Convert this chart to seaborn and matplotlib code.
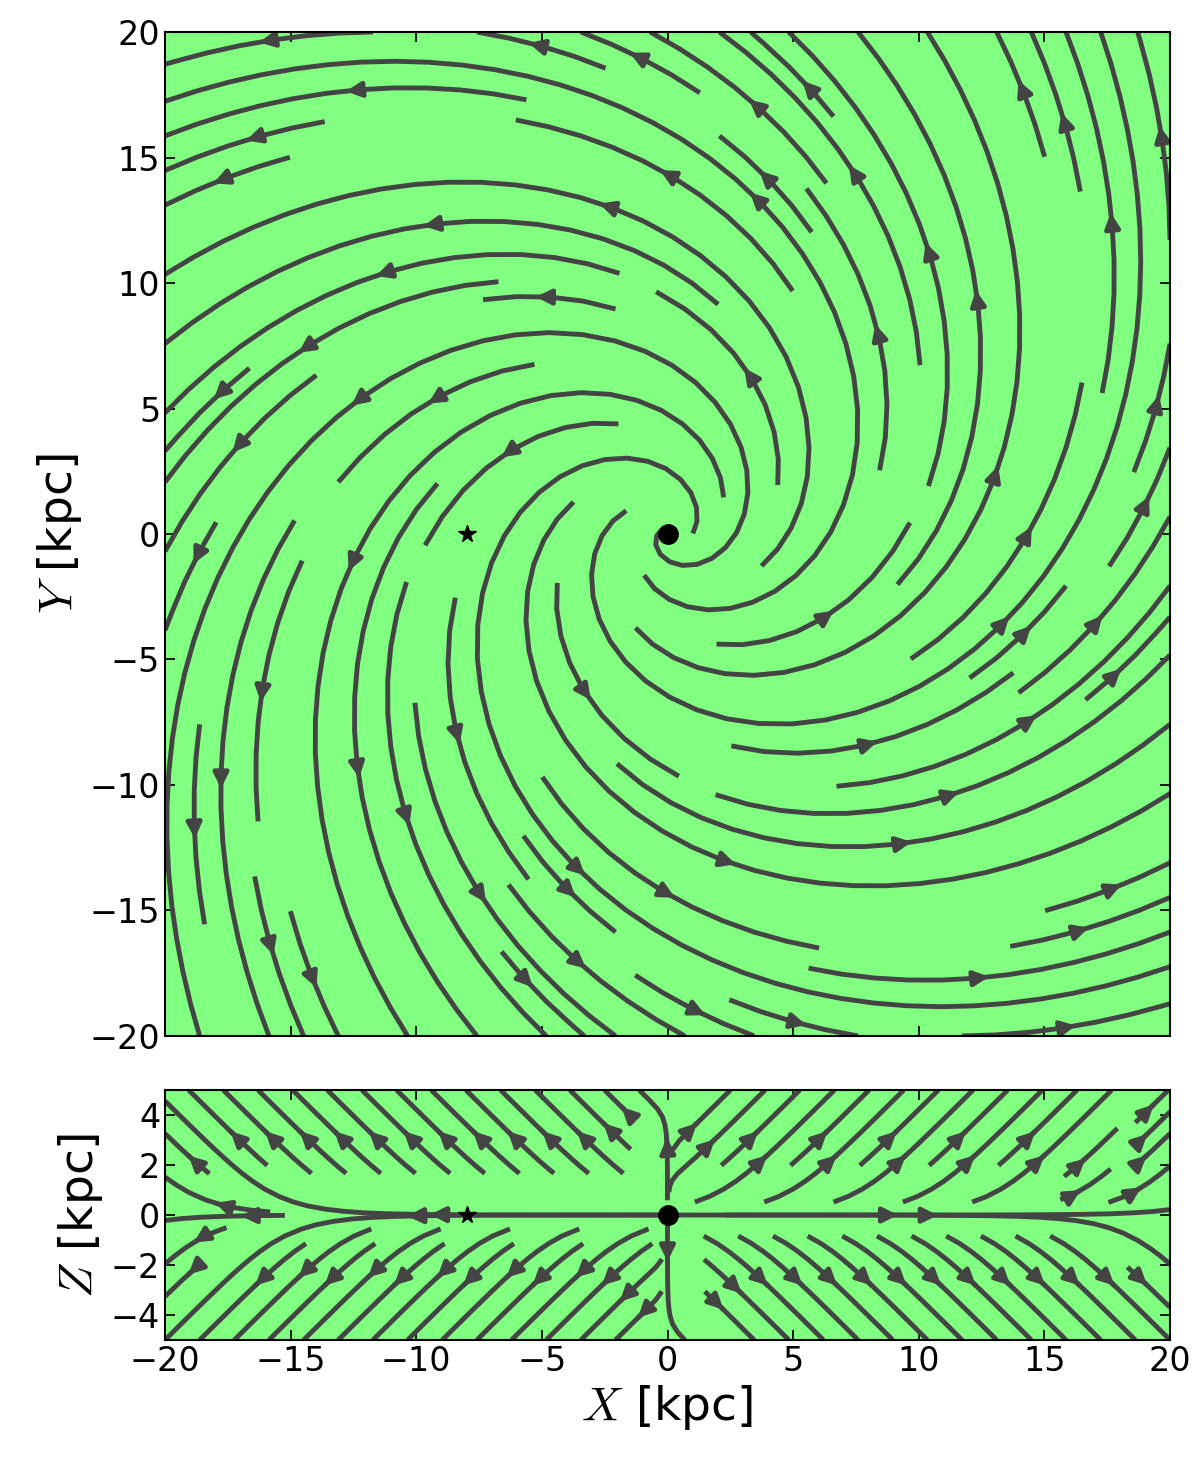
import numpy as np
import matplotlib
matplotlib.use("Agg")
import matplotlib.pyplot as plt
import seaborn as sns

# ── model parameters ─────────────────────────────────────────
PITCH_DEG   = 30.0            # spiral pitch of the disk field
HX, HZ      = 0.3, 1.5        # softening lengths of the X-shaped halo field
SUN_X       = -8.0            # star marker (Sun)
GC_X        = 0.0             # galactic centre marker
XLIM        = (-20, 20)
YLIM        = (-20, 20)
ZLIM        = (-5, 5)
XTICKS      = [-20, -15, -10, -5, 0, 5, 10, 15, 20]
YTICKS      = [-20, -15, -10, -5, 0, 5, 10, 15, 20]
ZTICKS      = [-4, -2, 0, 2, 4]

GREEN = "#80ff80"
LINE  = "#444444"

sns.set_theme(style="ticks")
plt.rcParams.update({
    "font.family": ["DejaVu Sans"],
    "mathtext.fontset": "cm",
    "text.color": "black",
    "axes.labelcolor": "black",
    "xtick.color": "black",
    "ytick.color": "black",
    "xtick.direction": "in",
    "ytick.direction": "in",
    "xtick.top": True,
    "ytick.right": True,
    "xtick.major.size": 7,
    "ytick.major.size": 7,
    "axes.linewidth": 1.5,
    "axes.edgecolor": "black",
})

fig = plt.figure(figsize=(12, 14.63), dpi=100)
ax1 = fig.add_axes([0.1375, 0.2919, 0.8375, 0.6862])
ax2 = fig.add_axes([0.1375, 0.0841, 0.8375, 0.1708])

# ── top panel: spiral disk field in the XY plane ─────────────
x = np.linspace(XLIM[0], XLIM[1], 300)
y = np.linspace(YLIM[0], YLIM[1], 300)
X, Y = np.meshgrid(x, y)
R = np.hypot(X, Y) + 1e-9
phi = np.arctan2(Y, X)
p = np.deg2rad(PITCH_DEG)
br, bphi = np.sin(p), np.cos(p)
U = br * np.cos(phi) - bphi * np.sin(phi)
V = br * np.sin(phi) + bphi * np.cos(phi)
U[R < 0.3] = 0
V[R < 0.3] = 0

ax1.set_facecolor(GREEN)
ax1.streamplot(X, Y, U, V, density=1.0, color=LINE, linewidth=3.5,
               arrowsize=2.2)
ax1.plot(SUN_X, 0, marker="*", color="black", markersize=13, zorder=5)
ax1.plot(GC_X, 0, marker="o", color="black", markersize=14, zorder=5)
ax1.set_xlim(XLIM)
ax1.set_ylim(YLIM)
ax1.set_xticks(XTICKS)
ax1.set_yticks(YTICKS)
ax1.set_xticklabels([])
ax1.set_ylabel(r"$Y$ [kpc]", fontsize=34)
ax1.tick_params(labelsize=24)

# ── bottom panel: X-shaped halo field in the XZ plane ────────
xx = np.linspace(XLIM[0], XLIM[1], 400)
zz = np.linspace(ZLIM[0], ZLIM[1], 100)
XX, ZZ = np.meshgrid(xx, zz)
UX = np.tanh(XX / HX)
UZ = np.tanh(ZZ / HZ)

ax2.set_facecolor(GREEN)
ax2.streamplot(XX, ZZ, UX, UZ, density=(1.0, 0.8), color=LINE,
               linewidth=3.5, arrowsize=2.2)
ax2.plot(SUN_X, 0, marker="*", color="black", markersize=13, zorder=5)
ax2.plot(GC_X, 0, marker="o", color="black", markersize=14, zorder=5)
ax2.set_xlim(XLIM)
ax2.set_ylim(ZLIM)
ax2.set_xticks(XTICKS)
ax2.set_yticks(ZTICKS)
ax2.set_xlabel(r"$X$ [kpc]", fontsize=34)
ax2.set_ylabel(r"$Z$ [kpc]", fontsize=34)
ax2.tick_params(labelsize=24)

for a in (ax1, ax2):
    for s in a.spines.values():
        s.set_visible(True)
        s.set_zorder(10)

fig.savefig("out.png", dpi=100, facecolor="white")
